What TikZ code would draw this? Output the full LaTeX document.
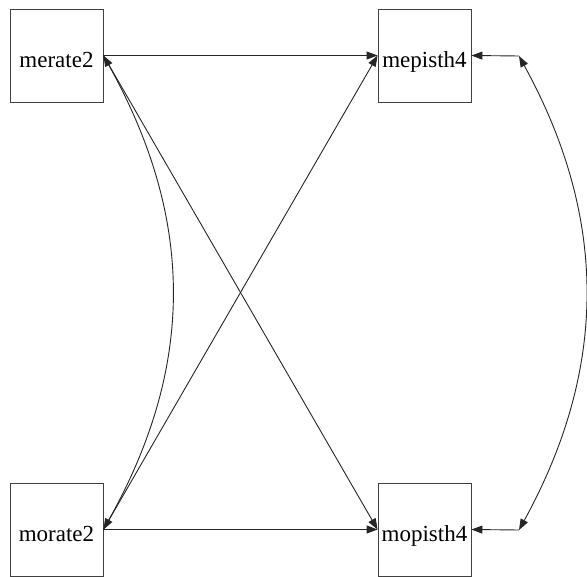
\documentclass[tikz,border=0pt]{standalone}
\usepackage{fontspec}
\setmainfont{Liberation Serif}
\usetikzlibrary{arrows.meta}
\begin{document}
\begin{tikzpicture}[x=1pt,y=-1pt,
  varbox/.style={draw=black!75,line width=0.9pt,minimum width=93pt,minimum height=93pt,
    inner sep=0pt,text height=24pt,text depth=0pt,font=\fontsize{23}{27}\selectfont},
  path/.style={line width=0.9pt,draw=black!85,-{Triangle[length=11pt,width=8pt]}},
  cov/.style={line width=0.9pt,draw=black!85,{Triangle[length=11pt,width=8pt]}-{Triangle[length=11pt,width=8pt]}}]
  \useasboundingbox (0,0) rectangle (587,577);
  % observed variables
  \node[varbox] (merate2)  at (56.5,55.5)  {merate2};
  \node[varbox] (mepisth4) at (424.5,55.5) {mepisth4};
  \node[varbox] (morate2)  at (56.5,529.5) {morate2};
  \node[varbox] (mopisth4) at (424.5,529.5) {mopisth4};
  % residual ends
  \coordinate (e1) at (519,56);
  \coordinate (e2) at (519,530);
  % regression paths
  \draw[path] (merate2.east) -- (mepisth4.west);
  \draw[path] (morate2.east) -- (mopisth4.west);
  \draw[path] (merate2.east) -- (mopisth4.west);
  \draw[path] (morate2.east) -- (mepisth4.west);
  % residuals
  \draw[path] (e1) -- (mepisth4.east);
  \draw[path] (e2) -- (mopisth4.east);
  % covariances
  \draw[cov] (merate2.east) .. controls (195,220) and (195,366) .. (morate2.east);
  \draw[cov] (e1) .. controls (608,218) and (608,368) .. (e2);
\end{tikzpicture}
\end{document}
